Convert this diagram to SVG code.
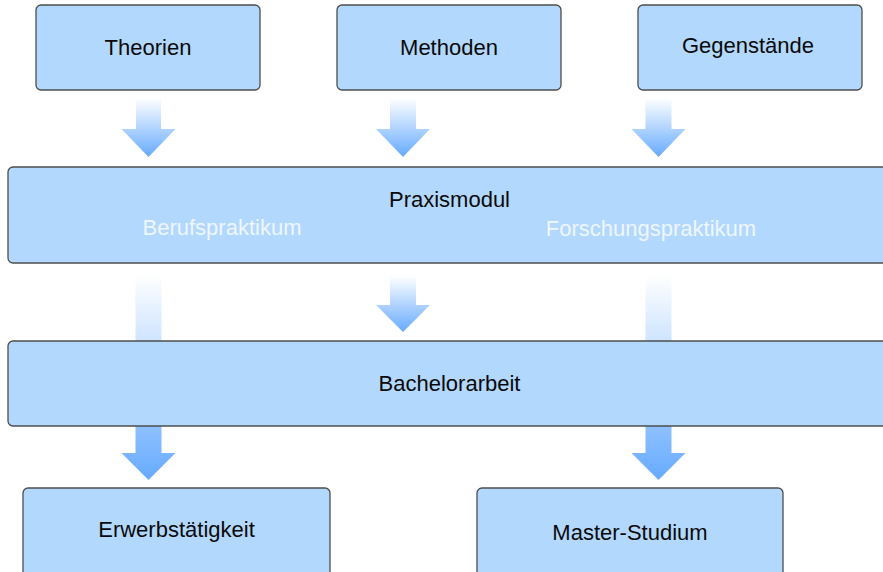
<svg xmlns="http://www.w3.org/2000/svg" width="883" height="572" viewBox="0 0 883 572">
<defs>
<linearGradient id="g" x1="0" y1="0" x2="0" y2="1">
<stop offset="0" stop-color="#ffffff"/>
<stop offset="1" stop-color="#66aaff"/>
</linearGradient>
<style>
.box{fill:#b3d8fe;stroke:#4d4d4d;stroke-width:1.3}
.t{font-family:"Liberation Sans",Arial,sans-serif;font-size:22px;fill:#0a0a0a;text-anchor:middle}
.w{fill:#eef6ff}
.arr{fill:url(#g)}
</style>
</defs>
<rect width="883" height="572" fill="#fff"/>
<g id="connectors">
<path class="arr" d="M136 98H161V129H175.5L148.5 157L121.5 129H136Z"/>
<path class="arr" d="M390 98H416V129H430L403 157L376 129H390Z"/>
<path class="arr" d="M645.5 98H671.5V129H685.5L658.5 157L631.5 129H645.5Z"/>
<path class="arr" d="M390 276H416V305H430L403 332L376 305H390Z"/>
<path class="arr" d="M135.5 275H161.5V453H175.5L148.5 480L121.5 453H135.5Z"/>
<path class="arr" d="M645.5 275H671.5V453H685.5L658.5 480L631.5 453H645.5Z"/>
</g>
<g id="theorien"><rect class="box" x="36" y="5" width="224" height="85" rx="5"/><text class="t" x="148" y="55">Theorien</text></g>
<g id="methoden"><rect class="box" x="337" y="5" width="224" height="85" rx="5"/><text class="t" x="449" y="55">Methoden</text></g>
<g id="gegenstaende"><rect class="box" x="638" y="5" width="224" height="85" rx="5"/><text class="t" x="748" y="53">Gegenstände</text></g>
<g id="praxismodul"><rect class="box" x="8" y="167" width="890" height="96" rx="5"/><text class="t" x="449.5" y="207">Praxismodul</text><text class="t w" x="222" y="235">Berufspraktikum</text><text class="t w" x="651" y="236">Forschungspraktikum</text></g>
<g id="bachelorarbeit"><rect class="box" x="8" y="341" width="890" height="85" rx="5"/><text class="t" x="449.5" y="391">Bachelorarbeit</text></g>
<g id="erwerb"><rect class="box" x="23" y="488" width="307" height="100" rx="5"/><text class="t" x="176.5" y="537">Erwerbstätigkeit</text></g>
<g id="master"><rect class="box" x="477" y="488" width="306" height="100" rx="5"/><text class="t" x="630" y="540">Master-Studium</text></g>
</svg>
